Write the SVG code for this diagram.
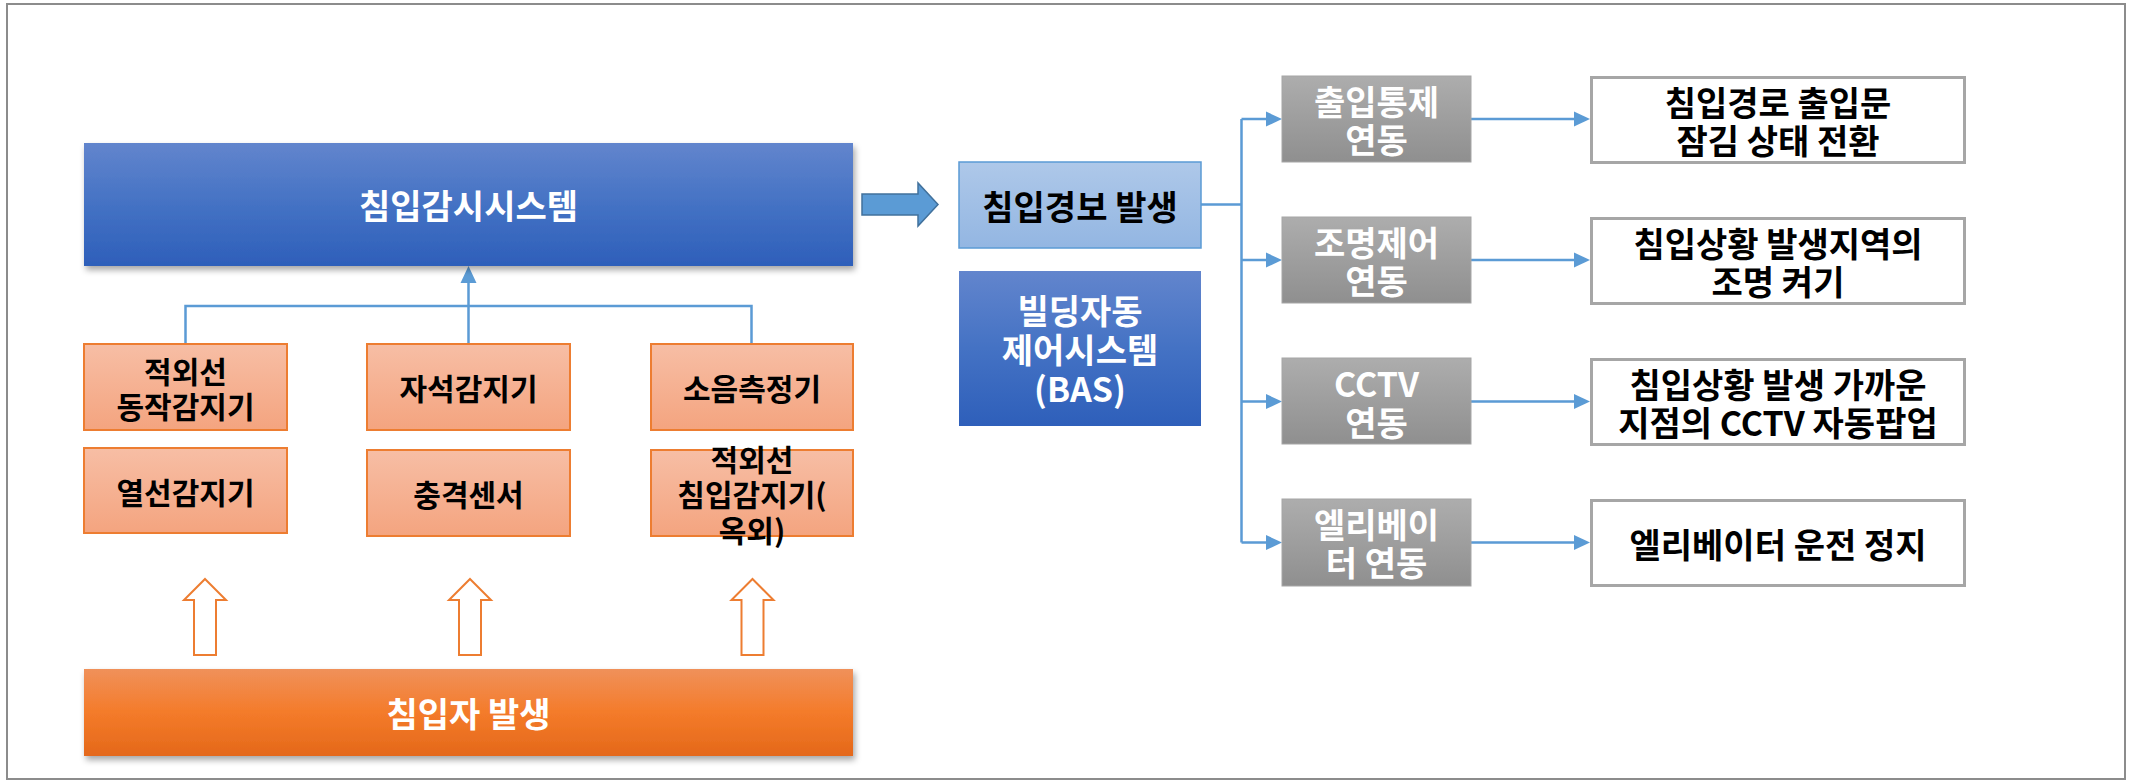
<svg xmlns="http://www.w3.org/2000/svg" width="2132" height="780" viewBox="0 0 2132 780">
<style>
text{font-family:"Noto Sans CJK KR","Malgun Gothic",sans-serif;font-weight:700;text-anchor:middle;dominant-baseline:central}
.w{fill:#FFFFFF;font-size:34px}
.b{fill:#000000;font-size:34px}
.s{fill:#000000;font-size:30px}
.sensor{fill:url(#gSensor);stroke:#ED7D31;stroke-width:2}
.gray{fill:url(#gGray);stroke:#A6A6A6;stroke-width:1}
.res{fill:#FFFFFF;stroke:#A6A6A6;stroke-width:3}
.line{fill:none;stroke:#5B9BD5;stroke-width:2.5}
.head{fill:#5B9BD5}
.hollow{fill:#FFFFFF;stroke:#ED7D31;stroke-width:2}
</style>
<defs>
<linearGradient id="gBlue" x1="0" y1="0" x2="0" y2="1">
<stop offset="0" stop-color="#6285CD"/><stop offset="0.5" stop-color="#4472C4"/><stop offset="1" stop-color="#2E5FBA"/>
</linearGradient>
<linearGradient id="gOrange" x1="0" y1="0" x2="0" y2="1">
<stop offset="0" stop-color="#F0915A"/><stop offset="0.5" stop-color="#F47B2A"/><stop offset="1" stop-color="#E4681A"/>
</linearGradient>
<linearGradient id="gSensor" x1="0" y1="0" x2="0" y2="1">
<stop offset="0" stop-color="#F7BEA5"/><stop offset="1" stop-color="#F4A47F"/>
</linearGradient>
<linearGradient id="gLight" x1="0" y1="0" x2="0" y2="1">
<stop offset="0" stop-color="#AEC8E9"/><stop offset="1" stop-color="#93B6E2"/>
</linearGradient>
<linearGradient id="gGray" x1="0" y1="0" x2="0" y2="1">
<stop offset="0" stop-color="#ADADAD"/><stop offset="1" stop-color="#8F8F8F"/>
</linearGradient>
<filter id="sh" x="-5%" y="-20%" width="110%" height="150%">
<feDropShadow dx="2" dy="4" stdDeviation="3" flood-color="#000" flood-opacity="0.35"/>
</filter>
</defs>

<rect x="7" y="4" width="2118" height="775" fill="#FFFFFF" stroke="#8C8C8C" stroke-width="2"/>

<g id="connectors">
<path class="line" d="M185.5 344V306H751.5V344M468.5 344V282"/>
<polygon class="head" points="468.5,266 460.5,283 476.5,283"/>
<polygon points="862,194 918,194 918,183 938,204.5 918,226 918,215 862,215" fill="#5B9BD5" stroke="#41719C" stroke-width="1.5"/>
<polygon class="hollow" points="205,579 226,600 216,600 216,655 194,655 194,600 184,600"/>
<polygon class="hollow" points="470,579 491,600 481,600 481,655 459,655 459,600 449,600"/>
<polygon class="hollow" points="752.5,579 773.5,600 763.5,600 763.5,655 741.5,655 741.5,600 731.5,600"/>
<path class="line" d="M1201 204.5H1241.5M1241.5 119V542.5M1241.5 119H1268M1241.5 260H1268M1241.5 401.5H1268M1241.5 542.5H1268"/>
<polygon class="head" points="1282,119 1266,111.5 1266,126.5"/>
<polygon class="head" points="1282,260 1266,252.5 1266,267.5"/>
<polygon class="head" points="1282,401.5 1266,394 1266,409"/>
<polygon class="head" points="1282,542.5 1266,535 1266,550"/>
<path class="line" d="M1471 119H1577M1471 260H1577M1471 401.5H1577M1471 542.5H1577"/>
<polygon class="head" points="1590,119 1574,111.5 1574,126.5"/>
<polygon class="head" points="1590,260 1574,252.5 1574,267.5"/>
<polygon class="head" points="1590,401.5 1574,394 1574,409"/>
<polygon class="head" points="1590,542.5 1574,535 1574,550"/>
</g>

<g id="n-monitor">
<rect x="84" y="143" width="769" height="123" fill="url(#gBlue)" filter="url(#sh)"/>
<text class="w" x="468.5" y="204.5">침입감시시스템</text>
</g>
<g id="n-ir-motion">
<rect class="sensor" x="84" y="344" width="203" height="86"/>
<text class="s"><tspan x="185.5" y="369.5">적외선</tspan><tspan x="185.5" y="404.5">동작감지기</tspan></text>
</g>
<g id="n-magnet">
<rect class="sensor" x="367" y="344" width="203" height="86"/>
<text class="s" x="468.5" y="387">자석감지기</text>
</g>
<g id="n-noise">
<rect class="sensor" x="651" y="344" width="202" height="86"/>
<text class="s" x="752" y="387">소음측정기</text>
</g>
<g id="n-heat">
<rect class="sensor" x="84" y="448" width="203" height="85"/>
<text class="s" x="185.5" y="490.5">열선감지기</text>
</g>
<g id="n-shock">
<rect class="sensor" x="367" y="450" width="203" height="86"/>
<text class="s" x="468.5" y="493">충격센서</text>
</g>
<g id="n-ir-outdoor">
<rect class="sensor" x="651" y="450" width="202" height="86"/>
<text class="s"><tspan x="752" y="458">적외선</tspan><tspan x="752" y="493">침입감지기(</tspan><tspan x="752" y="529">옥외)</tspan></text>
</g>
<g id="n-intruder">
<rect x="84" y="669" width="769" height="87" fill="url(#gOrange)" filter="url(#sh)"/>
<text class="w" x="468.5" y="712">침입자 발생</text>
</g>

<g id="n-alarm">
<rect x="959" y="162" width="242" height="86" fill="url(#gLight)" stroke="#5B9BD5" stroke-width="1.5"/>
<text class="b" x="1080" y="205">침입경보 발생</text>
</g>
<g id="n-bas">
<rect x="959" y="271" width="242" height="155" fill="url(#gBlue)"/>
<text class="w"><tspan x="1080" y="309">빌딩자동</tspan><tspan x="1080" y="348">제어시스템</tspan><tspan x="1080" y="387">(BAS)</tspan></text>
</g>

<g id="n-access">
<rect class="gray" x="1282" y="76" width="189" height="86"/>
<text class="w"><tspan x="1376.5" y="100">출입통제</tspan><tspan x="1376.5" y="138">연동</tspan></text>
</g>
<g id="n-light">
<rect class="gray" x="1282" y="217" width="189" height="86"/>
<text class="w"><tspan x="1376.5" y="241">조명제어</tspan><tspan x="1376.5" y="279">연동</tspan></text>
</g>
<g id="n-cctv">
<rect class="gray" x="1282" y="358" width="189" height="86"/>
<text class="w"><tspan x="1376.5" y="382">CCTV</tspan><tspan x="1376.5" y="421">연동</tspan></text>
</g>
<g id="n-elev">
<rect class="gray" x="1282" y="499" width="189" height="87"/>
<text class="w"><tspan x="1376.5" y="523">엘리베이</tspan><tspan x="1376.5" y="561">터 연동</tspan></text>
</g>

<g id="n-r1">
<rect class="res" x="1591.5" y="77.5" width="373" height="85"/>
<text class="b"><tspan x="1778" y="101">침입경로 출입문</tspan><tspan x="1778" y="139">잠김 상태 전환</tspan></text>
</g>
<g id="n-r2">
<rect class="res" x="1591.5" y="218.5" width="373" height="85"/>
<text class="b"><tspan x="1778" y="242">침입상황 발생지역의</tspan><tspan x="1778" y="280">조명 켜기</tspan></text>
</g>
<g id="n-r3">
<rect class="res" x="1591.5" y="359.5" width="373" height="85"/>
<text class="b"><tspan x="1778" y="383">침입상황 발생 가까운</tspan><tspan x="1778" y="421">지점의 CCTV 자동팝업</tspan></text>
</g>
<g id="n-r4">
<rect class="res" x="1591.5" y="500.5" width="373" height="85"/>
<text class="b" x="1778" y="543">엘리베이터 운전 정지</text>
</g>
</svg>
